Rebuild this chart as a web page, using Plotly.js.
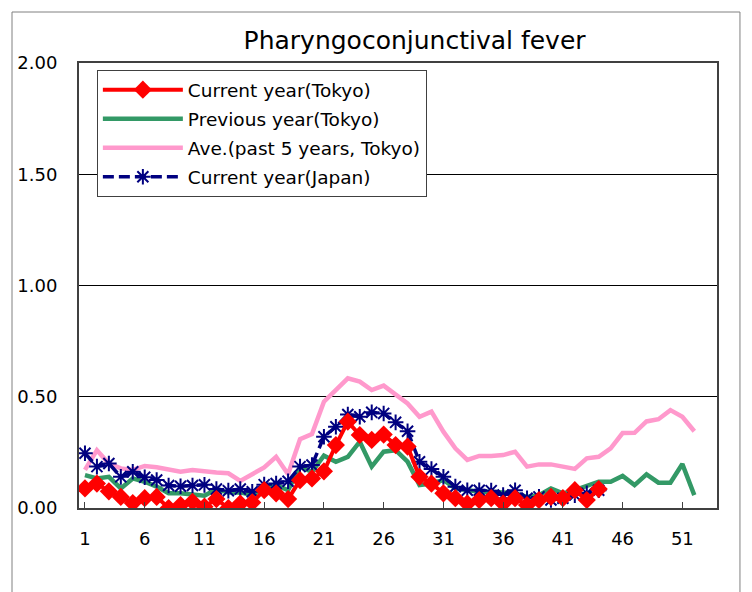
<!DOCTYPE html>
<html>
<head>
<meta charset="utf-8">
<script src="https://cdn.plot.ly/plotly-3.0.1.min.js"></script>
<style>html,body{margin:0;padding:0;background:#fff;}#chart{width:752px;height:592px;}</style>
</head>
<body>
<div id="chart"></div>
<script>
var weeks = [1,2,3,4,5,6,7,8,9,10,11,12,13,14,15,16,17,18,19,20,21,22,23,24,25,26,27,28,29,30,31,32,33,34,35,36,37,38,39,40,41,42,43,44,45,46,47,48,49,50,51,52];
var tickWeeks = [1,6,11,16,21,26,31,36,41,46,51];
var yTicks = [0,0.5,1.0,1.5,2.0];
var yTickText = ["0.00","0.50","1.00","1.50","2.00"];

var currentTokyo = [0.088,0.11,0.075,0.05,0.022,0.044,0.05,0.0,0.013,0.028,0.006,0.04,0.0,0.02,0.025,0.08,0.066,0.04,0.125,0.133,0.165,0.283,0.388,0.328,0.306,0.33,0.283,0.276,0.14,0.11,0.066,0.044,0.02,0.036,0.044,0.02,0.044,0.013,0.036,0.05,0.044,0.08,0.036,0.085];
var previousTokyo = [0.148,0.133,0.14,0.088,0.133,0.118,0.096,0.066,0.066,0.058,0.055,0.085,0.07,0.071,0.058,0.092,0.103,0.08,0.185,0.163,0.235,0.208,0.23,0.298,0.186,0.253,0.26,0.208,0.103,0.11,0.126,0.088,0.08,0.073,0.073,0.069,0.066,0.05,0.058,0.088,0.066,0.08,0.099,0.118,0.118,0.144,0.103,0.151,0.114,0.114,0.198,0.058];
var avgTokyo = [0.171,0.26,0.2,0.178,0.171,0.189,0.183,0.171,0.163,0.171,0.168,0.16,0.156,0.122,0.152,0.182,0.23,0.152,0.309,0.332,0.478,0.53,0.583,0.568,0.53,0.55,0.508,0.47,0.41,0.433,0.343,0.268,0.216,0.234,0.234,0.238,0.253,0.186,0.196,0.196,0.186,0.176,0.223,0.23,0.268,0.337,0.338,0.389,0.399,0.44,0.41,0.345];
var currentJapan = [0.246,0.186,0.2,0.14,0.163,0.138,0.126,0.101,0.098,0.101,0.104,0.085,0.078,0.085,0.073,0.105,0.11,0.12,0.186,0.193,0.32,0.365,0.42,0.41,0.43,0.425,0.385,0.345,0.208,0.175,0.14,0.096,0.08,0.08,0.078,0.058,0.08,0.044,0.05,0.036,0.044,0.058,0.066,0.08];

var names = ["Current year(Tokyo)","Previous year(Tokyo)","Ave.(past 5 years, Tokyo)","Current year(Japan)"];

var traces = [
  {x: weeks.slice(0, avgTokyo.length), y: avgTokyo, name: names[2], type: 'scatter', mode: 'lines',
   line: {color: '#ff99cc', width: 4.5}, legendrank: 3, legendgroup: 'c'},
  {x: weeks.slice(0, previousTokyo.length), y: previousTokyo, name: names[1], type: 'scatter', mode: 'lines',
   line: {color: '#339966', width: 4.5}, legendrank: 2, legendgroup: 'b'},
  {x: weeks.slice(0, currentJapan.length), y: currentJapan, name: names[3], type: 'scatter', mode: 'lines+markers',
   line: {color: '#000080', width: 3.5, dash: '11px,5px'},
   marker: {symbol: 'asterisk-open', size: 13, color: '#000080', line: {color: '#000080', width: 2}},
   legendrank: 4, legendgroup: 'd'},
  {x: weeks.slice(0, currentTokyo.length), y: currentTokyo, name: names[0], type: 'scatter', mode: 'lines+markers',
   line: {color: '#ff0000', width: 4}, marker: {symbol: 'diamond', size: 14, color: '#ff0000'},
   legendrank: 1, legendgroup: 'a'}
];

var layout = {
  width: 752, height: 592,
  margin: {l: 79, r: 35, t: 63, b: 84},
  paper_bgcolor: '#ffffff', plot_bgcolor: '#ffffff',
  font: {family: 'DejaVu Sans, sans-serif', color: '#000000', size: 18},
  title: {text: 'Pharyngoconjunctival fever', font: {size: 25, color: '#000'},
          xref: 'paper', x: 0.526, xanchor: 'center', yref: 'container', y: 0.932, yanchor: 'middle'},
  showlegend: true,
  legend: {x: 0.028, y: 0.984, xanchor: 'left', yanchor: 'top', bgcolor: '#ffffff',
           bordercolor: '#404040', borderwidth: 1, font: {size: 18.5}, traceorder: 'grouped',
           tracegroupgap: 2, itemwidth: 80},
  xaxis: {range: [0.5, 53.9], tickmode: 'array', tickvals: tickWeeks, ticktext: tickWeeks.map(String),
          ticks: 'inside', ticklen: 6, tickcolor: '#404040', tickwidth: 1,
          showline: true, linecolor: '#404040', linewidth: 2, mirror: true,
          showgrid: false, zeroline: false, ticklabelstandoff: 13, tickfont: {size: 18}},
  yaxis: {range: [0, 2], tickmode: 'array', tickvals: yTicks, ticktext: yTickText,
          ticks: '', showline: true, linecolor: '#404040', linewidth: 2, mirror: true,
          showgrid: true, gridcolor: '#000000', gridwidth: 1, zeroline: false,
          ticklabelstandoff: 16, tickfont: {size: 18}},
  shapes: [
    {type: 'rect', xref: 'paper', yref: 'paper', x0: -0.105, x1: 1.036, y0: -0.25, y1: 1.1146,
     line: {color: '#808080', width: 1}, fillcolor: 'rgba(0,0,0,0)', layer: 'below'}
  ]
};

Plotly.newPlot('chart', traces, layout, {staticPlot: true});
</script>
</body>
</html>
